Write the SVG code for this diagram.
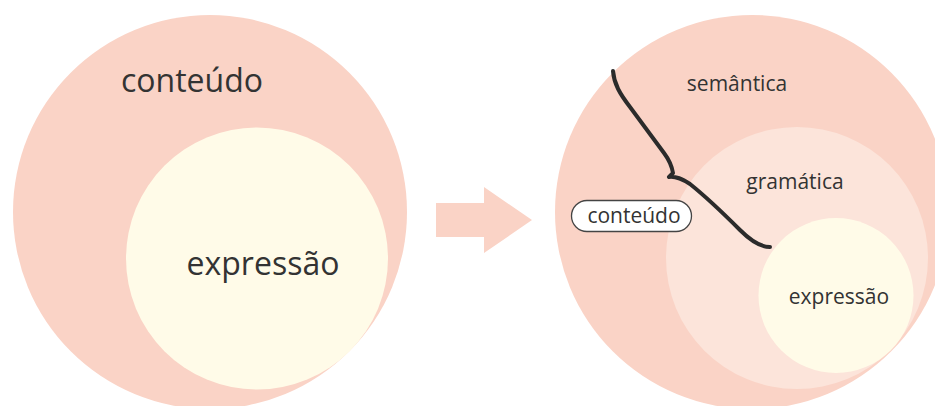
<svg xmlns="http://www.w3.org/2000/svg" width="935" height="406" viewBox="0 0 935 406">
  <style>
    .outer { fill: #FAD3C6; }
    .middle { fill: #FCE4DA; }
    .inner { fill: #FFFBE8; }
    .lbl { font-family: "Open Sans", "Noto Sans", "DejaVu Sans", sans-serif; fill: #333333; text-anchor: middle; }
    .big { font-size: 32px; }
    .small { font-size: 21px; }
    .brace { fill: none; stroke: #2B2B2B; stroke-width: 4; stroke-linecap: round; stroke-linejoin: round; }
    .pill { fill: #FFFFFF; stroke: #444444; stroke-width: 1.3; }
  </style>

  <!-- left diagram -->
  <g id="left-conteudo">
    <circle class="outer" cx="210" cy="212" r="197"/>
    <text class="lbl big" x="192" y="92">conteúdo</text>
  </g>
  <g id="left-expressao">
    <circle class="inner" cx="257" cy="258.5" r="131"/>
    <text class="lbl big" x="263" y="275">expressão</text>
  </g>

  <!-- transition arrow -->
  <g id="arrow">
    <path class="outer" d="M436,203 L484,203 L484,187 L532,220 L484,253 L484,237 L436,237 Z"/>
  </g>

  <!-- right diagram -->
  <g id="semantica">
    <circle class="outer" cx="752" cy="212" r="197"/>
    <text class="lbl small" x="737" y="91">semântica</text>
  </g>
  <g id="gramatica">
    <circle class="middle" cx="797" cy="258" r="131"/>
    <text class="lbl small" x="795" y="189">gramática</text>
  </g>
  <g id="expressao">
    <circle class="inner" cx="836" cy="295.5" r="77.5"/>
    <text class="lbl small" x="839" y="304">expressão</text>
  </g>

  <g id="connectors">
    <path class="brace" d="M613,71 C614,84 620,94 630,107 L664,153 C670,161 672,167 673,173 L669,177 C676,176 682,179 690,184 C700,192 722,212 740,230 C750,240 760,247 770,247"/>
  </g>

  <g id="conteudo-label">
    <rect class="pill" x="571.5" y="200.5" width="120" height="31" rx="15.5"/>
    <text class="lbl small" x="634" y="223">conteúdo</text>
  </g>
</svg>
